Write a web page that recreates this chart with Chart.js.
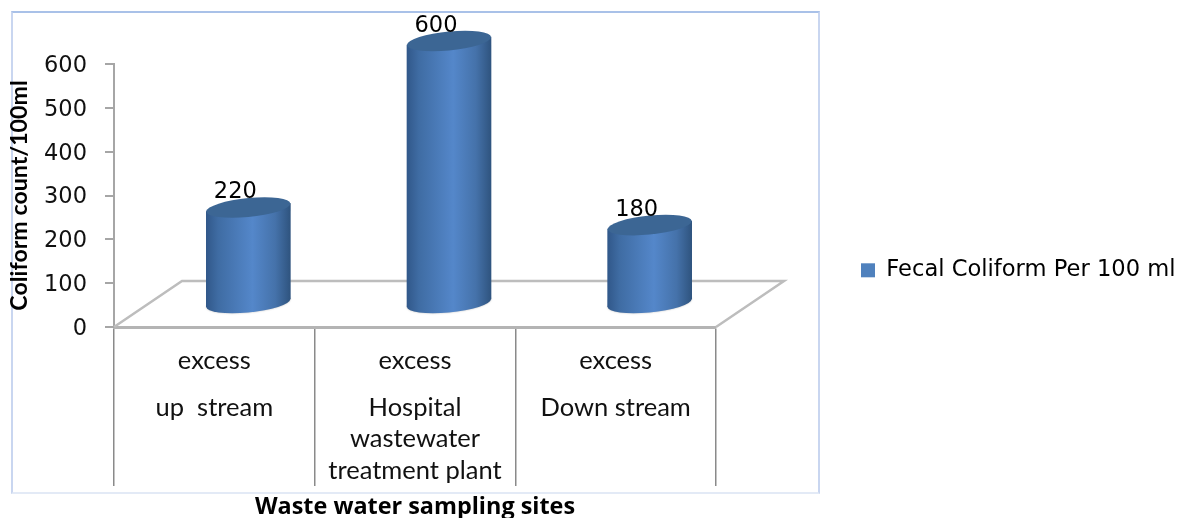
<!DOCTYPE html>
<html lang="en">
<head>
    <meta charset="UTF-8">
    <title>Fecal Coliform Per 100 ml</title>
    <style>
        body { margin: 0; background: #fff; }
        .wrap { position: relative; width: 1177px; height: 518px; overflow: hidden; }
        /* chart frame */
        .frame {
            position: absolute; left: 11px; top: 11px; width: 805px; height: 479px;
            border: 2px solid #a9c1e8;
            border-left-color: #c9d6f0;
            border-bottom-color: #e3eaf6;
            border-right-color: #c9d6f0;
        }
        canvas { position: absolute; left: 0; top: 0; }
    </style>
    <script src="https://cdn.jsdelivr.net/npm/chart.js"></script>
</head>
<body>
<div class="wrap">
    <div class="frame"></div>
    <canvas id="chart" width="1177" height="518"></canvas>
</div>
<script>
    // Data
    const categories = [
        ['excess', '', '', 'up  stream'],
        ['excess', '', '', 'Hospital', '', 'wastewater', '', 'treatment plant'],
        ['excess', '', '', 'Down stream']
    ];
    const coliformValues = [220, 600, 180];
    const seriesName = 'Fecal Coliform Per 100 ml';
    const yTitle = 'Coliform count/100ml';
    const xTitle = 'Waste water sampling sites';

    // fake 3D depth of the floor, cylinders stand half way back
    const depthX = 68, depthY = 46;
    const shear = -0.095;
    const capRy = 9.5;

    function bodyGradient(ctx) {
        const chart = ctx.chart;
        if (ctx.dataIndex === undefined || !chart.scales.x) return '#4f81bd';
        const cx = chart.scales.x.getPixelForValue(ctx.dataIndex);
        const g = chart.ctx.createLinearGradient(cx - 42, 0, cx + 42, 0);
        g.addColorStop(0, '#31588a');
        g.addColorStop(0.14, '#3f6ca3');
        g.addColorStop(0.55, '#5487ca');
        g.addColorStop(0.82, '#4572aa');
        g.addColorStop(1, '#2f547f');
        return g;
    }

    const cylinderPlugin = {
        id: 'cylinders',
        afterLayout(chart) {
            // park the legend right of the plot
            const lg = chart.legend;
            lg.left = 851; lg.right = 1177; lg.top = 249; lg.bottom = 290;
        },
        beforeDatasetDraw(chart, args) {
            const ctx = chart.ctx;
            const {x, y} = chart.scales;

            // floor
            const x0 = x.left, x1 = x.right, yb = y.getPixelForValue(0);
            ctx.save();
            ctx.strokeStyle = '#bdbdbd';
            ctx.lineWidth = 2.5;
            ctx.beginPath();
            ctx.moveTo(x0, yb);
            ctx.lineTo(x0 + depthX, yb - depthY);
            ctx.lineTo(x1 + depthX, yb - depthY);
            ctx.lineTo(x1, yb);
            ctx.stroke();
            ctx.restore();

            // cylinders
            args.meta.data.forEach((bar, i) => {
                ctx.save();
                ctx.translate(depthX / 2, -depthY / 2);
                ctx.transform(1, shear, 0, 1, 0, -shear * bar.x);
                ctx.save();
                ctx.shadowColor = 'rgba(60,60,60,0.35)';
                ctx.shadowBlur = 2;
                ctx.fillStyle = bar.options.backgroundColor;
                ctx.beginPath();
                ctx.ellipse(bar.x, bar.base, bar.width / 2, capRy, 0, 0, Math.PI * 2);
                ctx.fill();
                ctx.restore();
                bar.draw(ctx);
                ctx.fillStyle = '#3c6694';
                ctx.beginPath();
                ctx.ellipse(bar.x, bar.y, bar.width / 2, capRy, 0, 0, Math.PI * 2);
                ctx.fill();
                ctx.restore();
            });

            // value labels
            ctx.save();
            ctx.fillStyle = '#000';
            ctx.font = '22.5px "DejaVu Sans"';
            ctx.textAlign = 'center';
            ctx.textBaseline = 'middle';
            args.meta.data.forEach((bar, i) => {
                ctx.fillText(String(coliformValues[i]), bar.x + 21, bar.y - 38);
            });
            ctx.restore();
            return false;
        }
    };

    new Chart(document.getElementById('chart'), {
        type: 'bar',
        plugins: [cylinderPlugin],
        data: {
            labels: categories,
            datasets: [{
                label: seriesName,
                data: coliformValues,
                backgroundColor: bodyGradient,
                barThickness: 84,
                borderWidth: 0,
                clip: false
            }]
        },
        options: {
            responsive: false,
            animation: false,
            devicePixelRatio: 1,
            layout: { padding: { top: 64, right: 461, bottom: 0, left: 0 } },
            plugins: {
                tooltip: { enabled: false },
                title: { display: false },
                legend: {
                    position: 'chartArea',
                    align: 'start',
                    labels: {
                        boxWidth: 14,
                        boxHeight: 14,
                        padding: 10,
                        color: '#111',
                        font: { family: '"DejaVu Sans"', size: 22.6 },
                        generateLabels: () => [{
                            text: seriesName, fillStyle: '#4f81bd', strokeStyle: '#4f81bd',
                            lineWidth: 0, hidden: false, datasetIndex: 0
                        }]
                    }
                }
            },
            scales: {
                x: {
                    afterFit(scale) { scale.height = 191; },
                    grid: {
                        offset: true,
                        drawOnChartArea: false,
                        color: '#8a8a8a',
                        lineWidth: 1.5,
                        tickLength: 159
                    },
                    border: { color: '#b4b4b4', width: 3 },
                    ticks: {
                        autoSkip: false,
                        maxRotation: 0,
                        padding: -133,
                        color: '#111',
                        font: { family: 'Lato', size: 25.5, lineHeight: '15.67px' }
                    },
                    title: {
                        display: true,
                        text: xTitle,
                        color: '#000',
                        padding: { top: 0, bottom: -3 },
                        font: { family: '"Open Sans"', size: 23.4, weight: 'bold' }
                    }
                },
                y: {
                    min: 0,
                    max: 600,
                    afterFit(scale) { scale.width = 114; },
                    grid: {
                        drawOnChartArea: false,
                        color: '#a6a6a6',
                        lineWidth: 2,
                        tickLength: 9
                    },
                    border: { color: '#a6a6a6', width: 2 },
                    ticks: {
                        stepSize: 100,
                        padding: 18,
                        labelOffset: 2,
                        color: '#111',
                        font: { family: '"DejaVu Sans"', size: 22.5 }
                    },
                    title: {
                        display: true,
                        text: yTitle,
                        color: '#000',
                        padding: { top: 6, bottom: 0 },
                        font: { family: 'Lato', size: 23.2, weight: 'bold' }
                    }
                }
            }
        }
    });
</script>
</body>
</html>
